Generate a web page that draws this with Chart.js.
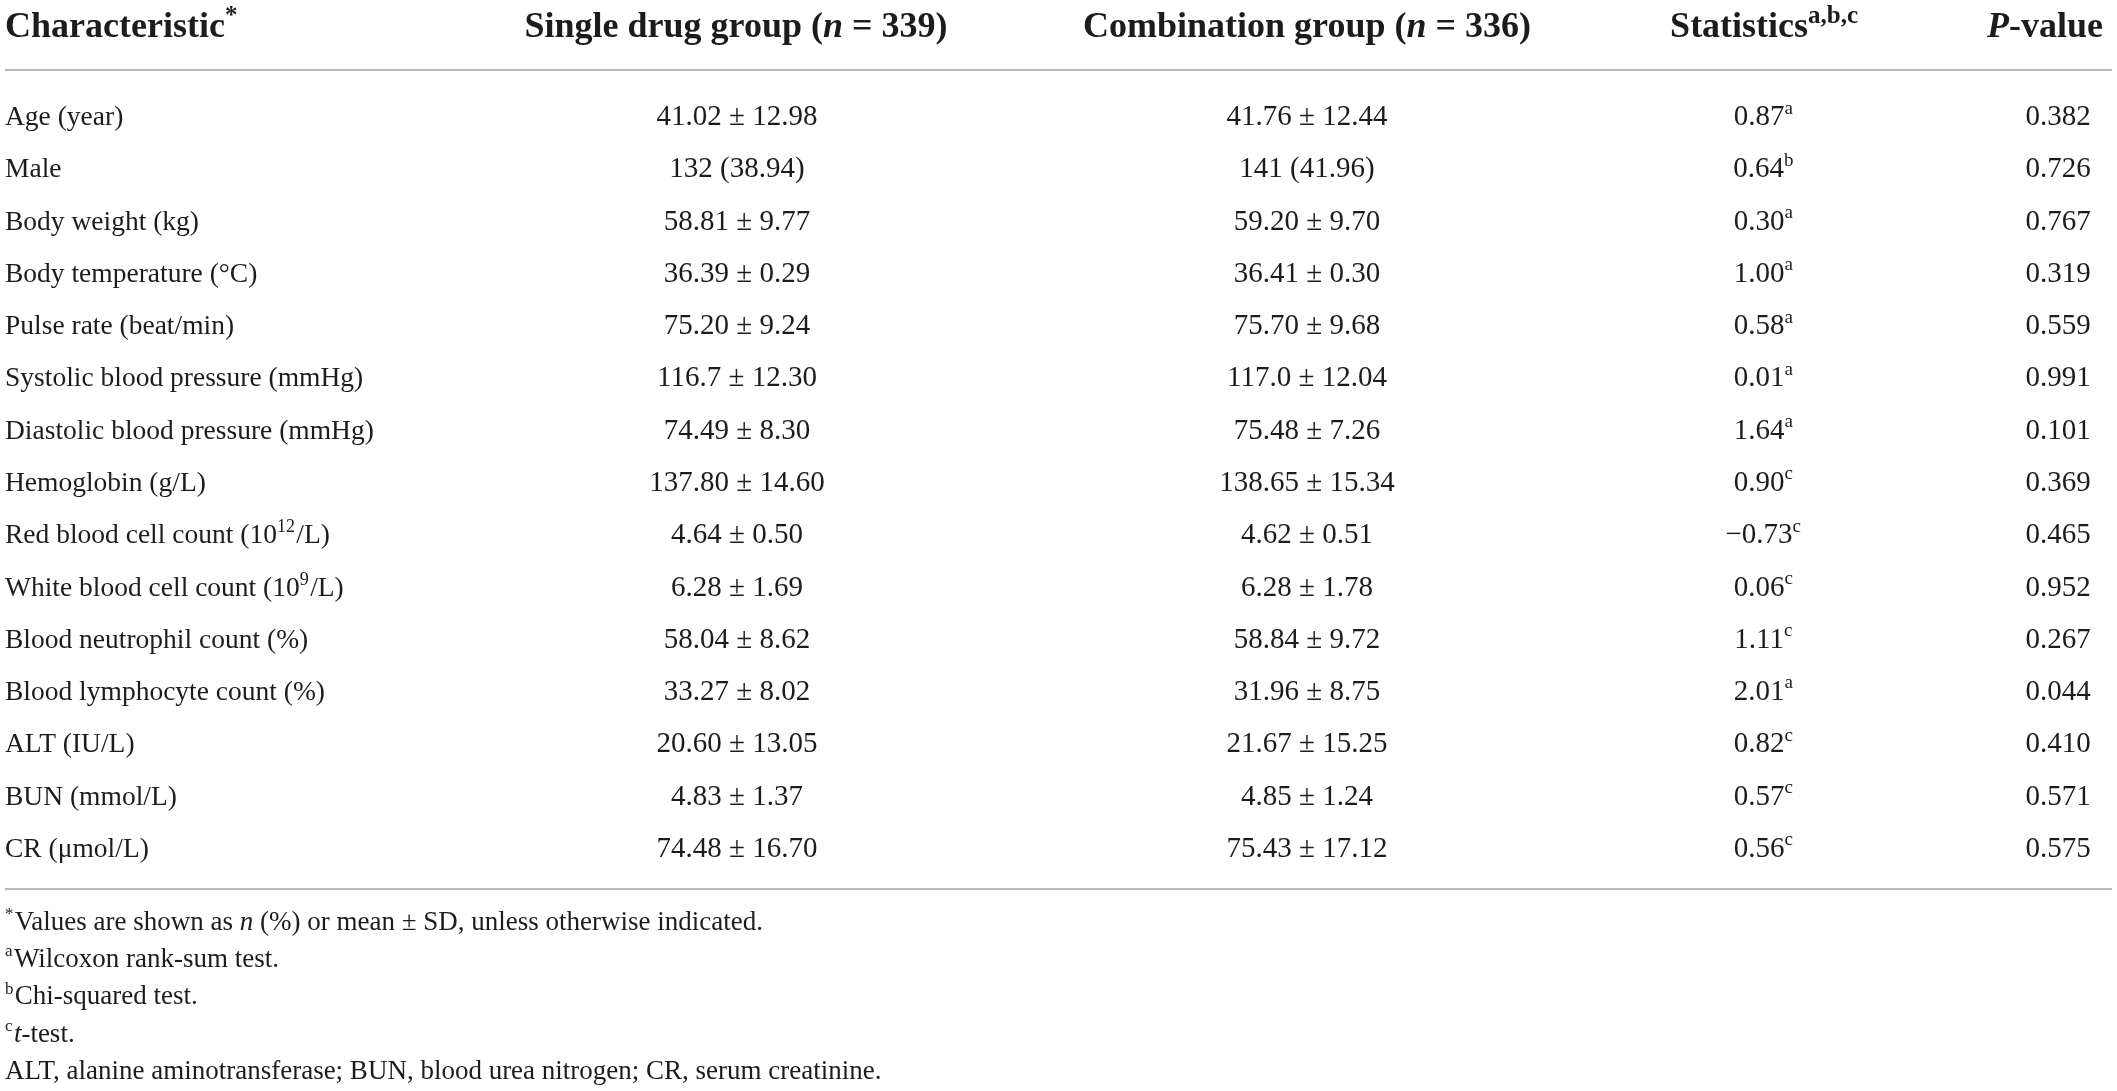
<!DOCTYPE html>
<html>
<head>
<meta charset="utf-8">
<script src="https://cdn.jsdelivr.net/npm/chart.js@4/dist/chart.umd.min.js"></script>
<style>
  html, body { margin: 0; padding: 0; background: #fff; }
  #wrap { width: 2117px; height: 1091px; }
</style>
</head>
<body>
<div id="wrap"><canvas id="tableChart" width="2117" height="1091"></canvas></div>
<script>
// table data (^{..} = superscript, _.._ = italic)
const headers = ['Characteristic^{*}', 'Single drug group (_n_ = 339)', 'Combination group (_n_ = 336)', 'Statistics^{a,b,c}', '_P_-value'];

const characteristics = [
    'Age (year)', 'Male', 'Body weight (kg)', 'Body temperature (°C)', 'Pulse rate (beat/min)',
    'Systolic blood pressure (mmHg)', 'Diastolic blood pressure (mmHg)', 'Hemoglobin (g/L)',
    'Red blood cell count (10^{12}/L)', 'White blood cell count (10^{9}/L)', 'Blood neutrophil count (%)',
    'Blood lymphocyte count (%)', 'ALT (IU/L)', 'BUN (mmol/L)', 'CR (μmol/L)'
];
const singleDrug = [
    '41.02 ± 12.98', '132 (38.94)', '58.81 ± 9.77', '36.39 ± 0.29', '75.20 ± 9.24',
    '116.7 ± 12.30', '74.49 ± 8.30', '137.80 ± 14.60', '4.64 ± 0.50', '6.28 ± 1.69',
    '58.04 ± 8.62', '33.27 ± 8.02', '20.60 ± 13.05', '4.83 ± 1.37', '74.48 ± 16.70'
];
const combination = [
    '41.76 ± 12.44', '141 (41.96)', '59.20 ± 9.70', '36.41 ± 0.30', '75.70 ± 9.68',
    '117.0 ± 12.04', '75.48 ± 7.26', '138.65 ± 15.34', '4.62 ± 0.51', '6.28 ± 1.78',
    '58.84 ± 9.72', '31.96 ± 8.75', '21.67 ± 15.25', '4.85 ± 1.24', '75.43 ± 17.12'
];
const statistics = [
    '0.87^{a}', '0.64^{b}', '0.30^{a}', '1.00^{a}', '0.58^{a}', '0.01^{a}', '1.64^{a}', '0.90^{c}',
    '−0.73^{c}', '0.06^{c}', '1.11^{c}', '2.01^{a}', '0.82^{c}', '0.57^{c}', '0.56^{c}'
];
const pValues = [
    '0.382', '0.726', '0.767', '0.319', '0.559', '0.991', '0.101', '0.369',
    '0.465', '0.952', '0.267', '0.044', '0.410', '0.571', '0.575'
];
const footnotes = [
    '^{*}Values are shown as _n_ (%) or mean ± SD, unless otherwise indicated.',
    '^{a}Wilcoxon rank-sum test.',
    '^{b}Chi-squared test.',
    '^{c}_t_-test.',
    'ALT, alanine aminotransferase; BUN, blood urea nitrogen; CR, serum creatinine.'
];

// layout of the columns (x anchor in px, text alignment, font size)
const columns = [
    { x: 5, align: 'left', headX: 5, size: 27.5 },
    { x: 737, align: 'center', headX: 736, size: 29 },
    { x: 1307, align: 'center', headX: 1307, size: 29 },
    { x: 1764, align: 'center', headX: 1765, size: 29 },
    { x: 2058, align: 'center', headX: 2045, size: 29 }
];
const cellTexts = [characteristics, singleDrug, combination, statistics, pValues];

const FONT = '"Liberation Serif", "Times New Roman", serif';
const INK = '#1e1b1c';
const RULE = '#a0a0a0';

function parseRich(str) {
    const segs = [];
    let italic = false, buf = '', i = 0;
    const push = (sup) => { if (buf) segs.push({ t: buf, it: italic, sup: sup }); buf = ''; };
    while (i < str.length) {
        const ch = str[i];
        if (ch === '^' && str[i + 1] === '{') {
            push(false);
            const end = str.indexOf('}', i);
            buf = str.slice(i + 2, end);
            push(true);
            i = end + 1;
        } else if (ch === '_') {
            push(false);
            italic = !italic;
            i++;
        } else {
            buf += ch;
            i++;
        }
    }
    push(false);
    return segs;
}

function segFont(seg, size, bold, supScale) {
    const s = seg.sup ? Math.round(size * supScale) : size;
    return (seg.it ? 'italic ' : '') + (bold ? 'bold ' : '') + s + 'px ' + FONT;
}

function drawRich(ctx, str, x, y, align, size, bold, supScale) {
    supScale = supScale || 0.64;
    const segs = parseRich(str);
    let total = 0;
    segs.forEach(seg => {
        ctx.font = segFont(seg, size, bold, supScale);
        seg.w = ctx.measureText(seg.t).width + (seg.sup ? size * 0.05 : 0);
        total += seg.w;
    });
    let cx = align === 'center' ? x - total / 2 : (align === 'right' ? x - total : x);
    ctx.textAlign = 'left';
    ctx.textBaseline = 'alphabetic';
    segs.forEach(seg => {
        ctx.font = segFont(seg, size, bold, supScale);
        ctx.fillText(seg.t, cx, seg.sup ? y - size * 0.4 : y);
        cx += seg.w;
    });
}

const tablePlugin = {
    id: 'tableText',
    afterDatasetsDraw(chart) {
        const ctx = chart.ctx;
        const yScale = chart.scales.y;
        ctx.save();
        ctx.fillStyle = INK;

        // header row
        const headY = yScale.top - 52;
        headers.forEach((h, c) => drawRich(ctx, h, columns[c].headX, headY, columns[c].align, 36, true, 0.7));

        // rules
        ctx.strokeStyle = RULE;
        ctx.lineWidth = 1.6;
        const ruleTop = yScale.top - 19;
        const ruleBottom = yScale.bottom + 16;
        [ruleTop, ruleBottom].forEach(yy => {
            ctx.beginPath();
            ctx.moveTo(5, yy);
            ctx.lineTo(2112, yy);
            ctx.stroke();
        });

        // cells, placed at the points the scales computed
        chart.data.datasets.forEach((ds, d) => {
            const meta = chart.getDatasetMeta(d);
            meta.data.forEach((el, i) => {
                drawRich(ctx, cellTexts[d][i], el.x, el.y + 10, columns[d].align, columns[d].size, false);
            });
        });

        // footnotes
        footnotes.forEach((f, k) => drawRich(ctx, f, 5, ruleBottom + 41 + k * 37.2, 'left', 27, false));
        ctx.restore();
    }
};

const ctx = document.getElementById('tableChart').getContext('2d');
new Chart(ctx, {
    type: 'scatter',
    data: {
        datasets: cellTexts.map((col, c) => ({
            label: headers[c],
            data: col.map((v, i) => ({ x: columns[c].x, y: i })),
            pointRadius: 0,
            pointHoverRadius: 0
        }))
    },
    options: {
        responsive: false,
        animation: false,
        devicePixelRatio: 1,
        layout: { padding: { top: 89, bottom: 218, left: 0, right: 0 } },
        plugins: { legend: { display: false }, tooltip: { enabled: false } },
        events: [],
        scales: {
            x: { type: 'linear', min: 0, max: 2117, display: false },
            y: { type: 'category', labels: characteristics, offset: true, display: false }
        }
    },
    plugins: [tablePlugin]
});
</script>
</body>
</html>
